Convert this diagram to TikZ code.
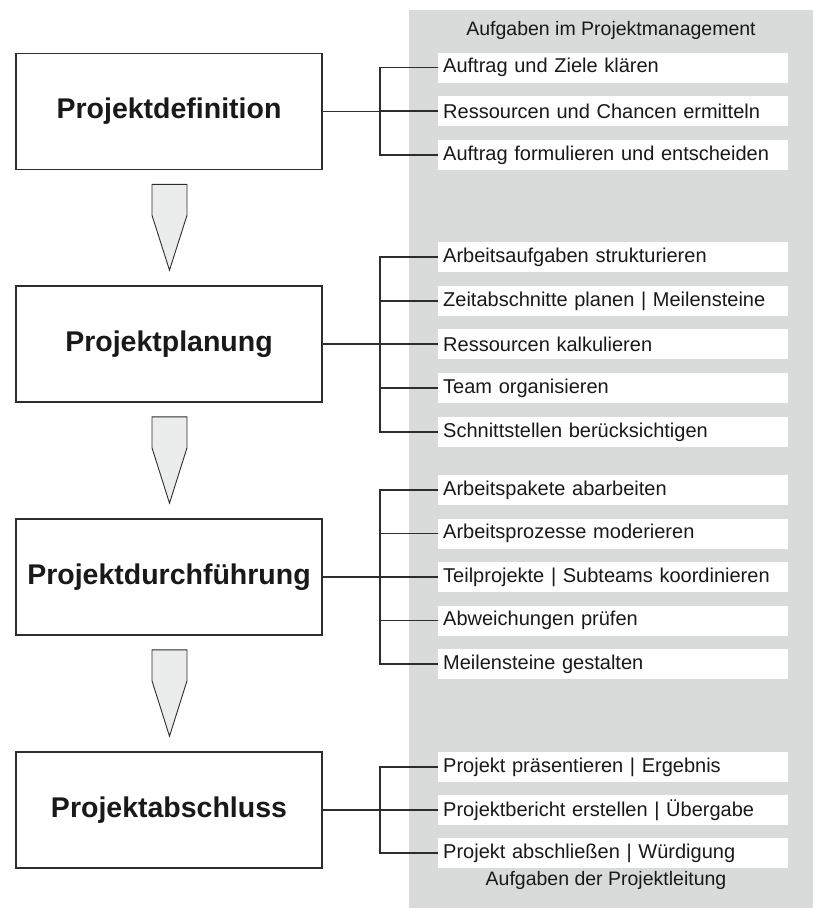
\documentclass[tikz,border=0pt]{standalone}
\usepackage{fontspec}
\setmainfont{Liberation Sans}
\usetikzlibrary{calc}

\definecolor{panelgray}{RGB}{217,218,218}
\definecolor{arrowgray}{RGB}{235,236,236}
\definecolor{linegray}{RGB}{45,45,45}
\definecolor{textdark}{RGB}{25,25,25}

\tikzset{
  phase/.style={draw=linegray, line width=1.6pt, fill=white,
    minimum width=306pt, minimum height=116pt, inner sep=0pt,
    text=textdark, font=\fontsize{28.5}{34}\selectfont\bfseries},
  task/.style={fill=white, anchor=west, minimum width=350pt,
    minimum height=30pt, inner xsep=5pt, inner ysep=0pt,
    text width=340pt, align=left, text=textdark,
    font=\fontsize{20}{24}\selectfont},
  paneltitle/.style={text=textdark, font=\fontsize{19.5}{24}\selectfont},
  conn/.style={draw=linegray, line width=1.1pt},
  flowarrow/.style={draw=linegray, line width=0.9pt, fill=arrowgray, line join=miter}
}

\begin{document}
\begin{tikzpicture}[x=1pt, y=-1pt]
\useasboundingbox (0,0) rectangle (813,908);

% grey band holding the task list
\fill[panelgray] (409,10) rectangle (813,908);
\node[paneltitle] (ttop) at (611,30) {Aufgaben im Projektmanagement};
\node[paneltitle] (tbot) at (606,880) {Aufgaben der Projektleitung};

% project phases
\node[phase] (p1) at (169,111.5) {Projektdefinition};
\node[phase] (p2) at (169,344)   {Projektplanung};
\node[phase] (p3) at (169,577)   {Projektdurchführung};
\node[phase] (p4) at (169,810)   {Projektabschluss};

% tasks of each phase
\node[task] (d1) at (438,67.5) {Auftrag und Ziele klären};
\node[task] (d2) at (438,111)  {Ressourcen und Chancen ermitteln};
\node[task] (d3) at (438,155)  {Auftrag formulieren und entscheiden};

\node[task] (e1) at (438,257) {Arbeitsaufgaben strukturieren};
\node[task] (e2) at (438,301) {Zeitabschnitte planen | Meilensteine};
\node[task] (e3) at (438,344) {Ressourcen kalkulieren};
\node[task] (e4) at (438,388) {Team organisieren};
\node[task] (e5) at (438,432) {Schnittstellen berücksichtigen};

\node[task] (f1) at (438,490)   {Arbeitspakete abarbeiten};
\node[task] (f2) at (438,533.5) {Arbeitsprozesse moderieren};
\node[task] (f3) at (438,577)   {Teilprojekte | Subteams koordinieren};
\node[task] (f4) at (438,620.5) {Abweichungen prüfen};
\node[task] (f5) at (438,664)   {Meilensteine gestalten};

\node[task] (g1) at (438,767) {Projekt präsentieren | Ergebnis};
\node[task] (g2) at (438,810) {Projektbericht erstellen | Übergabe};
\node[task] (g3) at (438,853) {Projekt abschließen | Würdigung};

% vertical bus of the brackets
\coordinate (bus) at (380,0);

% brackets: phase -> tasks
\draw[conn] (p1.east) -- (p1.east -| bus);
\draw[conn] (d1.west) -- (d1.west -| bus) -- (d3.west -| bus) -- (d3.west);
\draw[conn] (d2.west) -- (d2.west -| bus);

\draw[conn] (p2.east) -- (p2.east -| bus);
\draw[conn] (e1.west) -- (e1.west -| bus) -- (e5.west -| bus) -- (e5.west);
\foreach \t in {e2,e3,e4} \draw[conn] (\t.west) -- (\t.west -| bus);

\draw[conn] (p3.east) -- (p3.east -| bus);
\draw[conn] (f1.west) -- (f1.west -| bus) -- (f5.west -| bus) -- (f5.west);
\foreach \t in {f2,f3,f4} \draw[conn] (\t.west) -- (\t.west -| bus);

\draw[conn] (p4.east) -- (p4.east -| bus);
\draw[conn] (g1.west) -- (g1.west -| bus) -- (g3.west -| bus) -- (g3.west);
\draw[conn] (g2.west) -- (g2.west -| bus);

% pointed arrows between the phases
\foreach \a/\b in {p1/p2, p2/p3, p3/p4}
  \draw[flowarrow] ($(\a.south)+(-17,14)$) -- ($(\a.south)+(18,14)$)
    -- ($(\a.south)+(18,45)$) -- ($(\b.north)+(0.5,-15)$)
    -- ($(\a.south)+(-17,45)$) -- cycle;
\end{tikzpicture}
\end{document}
